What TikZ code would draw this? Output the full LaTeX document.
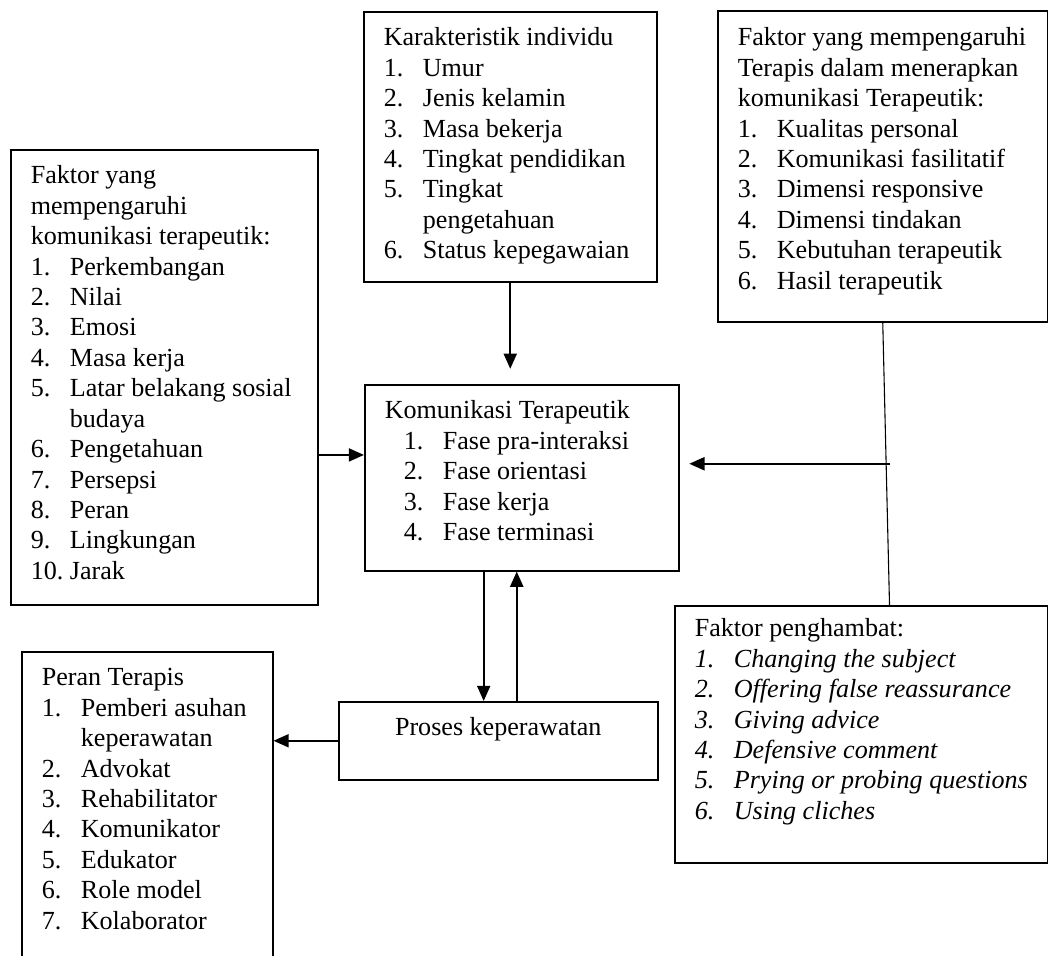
\documentclass[tikz,border=0pt]{standalone}
\usepackage{fontspec}
\setmainfont{Liberation Serif}
\usepackage{tikz}
\usetikzlibrary{arrows.meta,positioning,calc}

\newdimen\px
\px=0.46pt
% isi kotak: [jarak ke baris pertama]{lebar}{tinggi}{teks}
\newcommand{\isi}[4][34]{\parbox[t][#3\px][t]{#2\px}{\leftskip=20\px\relax\rule{0pt}{#1\px}#4}}
\newcommand{\no}[1]{\makebox[18pt][l]{#1}}
\newcommand{\lanjut}{\hspace*{18pt}}

\begin{document}
\begin{tikzpicture}[%
>={Triangle[length=7pt,width=6pt]},
x=0.46pt,
y=-0.46pt,
kotak/.style={draw, line width=0.7pt, anchor=north west, inner sep=0pt,
  font=\fontsize{12pt}{14pt}\selectfont},
panah/.style={->, line width=0.9pt}
]

\useasboundingbox (0,0) rectangle (1048,955);

\node[kotak] (kar) at (363,11) {\isi{293}{270}{Karakteristik individu\\
\no{1.}Umur\\
\no{2.}Jenis kelamin\\
\no{3.}Masa bekerja\\
\no{4.}Tingkat pendidikan\\
\no{5.}Tingkat\\
\lanjut pengetahuan\\
\no{6.}Status kepegawaian}};

\node[kotak] (ter) at (717,10) {\isi[35]{330}{311}{Faktor yang mempengaruhi\\
Terapis dalam menerapkan\\
komunikasi Terapeutik:\\
\no{1.}Kualitas personal\\
\no{2.}Komunikasi fasilitatif\\
\no{3.}Dimensi responsive\\
\no{4.}Dimensi tindakan\\
\no{5.}Kebutuhan terapeutik\\
\no{6.}Hasil terapeutik}};

\node[kotak] (fak) at (10,149) {\isi{307}{455}{Faktor yang\\
mempengaruhi\\
komunikasi terapeutik:\\
\no{1.}Perkembangan\\
\no{2.}Nilai\\
\no{3.}Emosi\\
\no{4.}Masa kerja\\
\no{5.}Latar belakang sosial\\
\lanjut budaya\\
\no{6.}Pengetahuan\\
\no{7.}Persepsi\\
\no{8.}Peran\\
\no{9.}Lingkungan\\
\no{10.}Jarak}};

\node[kotak] (kom) at (364,384) {\isi{314}{186}{Komunikasi Terapeutik\\
\hspace*{19\px}\no{1.}Fase pra-interaksi\\
\hspace*{19\px}\no{2.}Fase orientasi\\
\hspace*{19\px}\no{3.}Fase kerja\\
\hspace*{19\px}\no{4.}Fase terminasi}};

\node[kotak] (pro) at (338,701) {\isi{319}{78}{\centering Proses keperawatan}};

\node[kotak] (per) at (21,651) {\isi{251}{330}{Peran Terapis\\
\no{1.}Pemberi asuhan\\
\lanjut keperawatan\\
\no{2.}Advokat\\
\no{3.}Rehabilitator\\
\no{4.}Komunikator\\
\no{5.}Edukator\\
\no{6.}Role model\\
\no{7.}Kolaborator}};

\node[kotak] (pen) at (674,605) {\isi[31]{373}{257}{Faktor penghambat:\\
\itshape\no{1.}Changing the subject\\
\no{2.}Offering false reassurance\\
\no{3.}Giving advice\\
\no{4.}Defensive comment\\
\no{5.}Prying or probing questions\\
\no{6.}Using cliches}};

% garis dari faktor terapis ke faktor penghambat
\coordinate (pa) at ([xshift=13pt]pen.north);
\draw[line width=0.5pt] (ter.south) -- (pa);
\coordinate (cabang) at ($(ter.south)!0.5!(pa)$);
\draw[panah, shorten >=4.5pt] ([xshift=2pt]cabang) -- (kom.east |- cabang);

\draw[panah, shorten >=7pt] (kar.south) -- (kom.north -| kar.south);

\coordinate (masuk) at ([yshift=10.5pt]kom.west);
\draw[panah] (fak.east |- masuk) -- (masuk);

\coordinate (turun) at ([xshift=-6.7pt]pro.north);
\coordinate (naik) at ([xshift=8.5pt]pro.north);
\draw[panah] (kom.south -| turun) -- (turun);
\draw[panah] (naik) -- (kom.south -| naik);

\draw[panah] (pro.west) -- (per.east |- pro.west);

\end{tikzpicture}
\end{document}
